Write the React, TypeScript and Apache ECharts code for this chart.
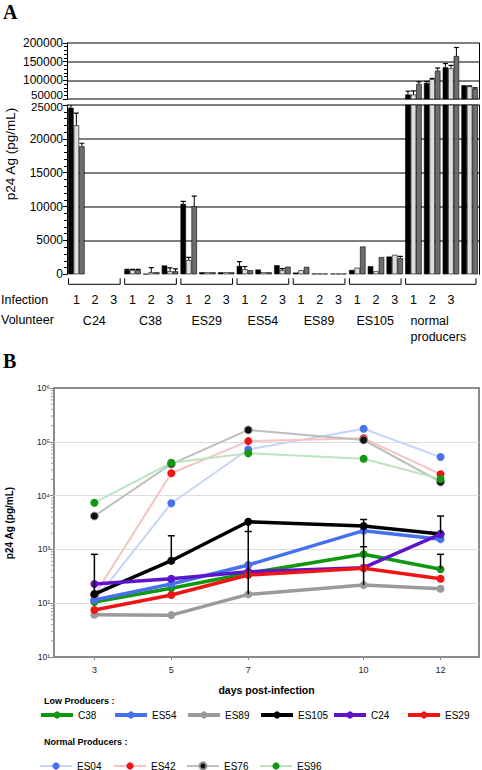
import React, { useEffect, useRef } from 'react';
import * as echarts from 'echarts';

const FONT = '"Liberation Sans", Arial, Helvetica, sans-serif';
const SERIF = '"Liberation Serif", "Times New Roman", serif';

// ---------- Panel A data ----------
const volunteers = ['C24', 'C38', 'ES29', 'ES54', 'ES89', 'ES105', 'normal\nproducers'];
const infectionCounts = [3, 3, 3, 3, 3, 3, 4];
const infectionTicks = ['1', '2', '3', ''];

// three bars per infection (black / light grey / dark grey)
const blackVals = [24600, 0, 0, 640, 50, 1300, 10400, 300, 300, 1240, 700, 1340, 250, 100, 100, 640, 1200, 2620, 62000, 93000, 135000, 87000];
const lightVals = [22000, 0, 0, 640, 300, 450, 2100, 300, 300, 740, 300, 600, 600, 100, 100, 980, 450, 2870, 62000, 103000, 132000, 84000];
const darkVals = [18900, 0, 0, 640, 300, 450, 10060, 300, 300, 600, 300, 1130, 1100, 100, 100, 4100, 2550, 2380, 90000, 126000, 165000, 78000];

const blackErr = [25050, null, null, 720, null, null, 10760, null, null, 1880, null, null, null, null, null, null, null, null, 71000, 97000, 145000, null];
const lightErr = [23800, null, null, 720, 1000, 950, 2500, null, null, 1150, null, 850, null, null, null, null, null, null, 71700, 105000, 140000, 85000];
const darkErr = [19350, null, null, 720, null, 800, 11550, null, null, null, null, null, null, null, null, null, null, 2650, 96000, 133000, 188000, 80000];

const topTicks = [50000, 200000, 50000]; // min, max, interval
const bottomTicks = [0, 25000, 5000];

// ---------- Panel B data ----------
const days = [3, 5, 7, 10, 12];
const lowNames = ['C38', 'ES54', 'ES89', 'ES105', 'C24', 'ES29'];
const lowValues = [
  [105, 189, 359, 811, 427],
  [115, 227, 513, 2230, 1550],
  [61, 60, 146, 218, 186],
  [148, 616, 3270, 2720, 1930],
  [227, 285, 385, 457, 1930],
  [75, 142, 334, 445, 285],
];
const normalNames = ['ES04', 'ES42', 'ES76', 'ES96'];
const normalValues = [
  [112, 7200, 72000, 175000, 52000],
  [140, 26000, 103000, 116000, 25000],
  [4170, 38600, 166000, 108000, 17900],
  [7380, 40700, 61000, 48500, 20400],
];
const errStems = [[3, 148, 810], [5, 616, 1790], [7, 146, 3270], [10, 218, 3600], [12, 430, 810], [12, 1930, 4170]];
const errCaps = [[3, 810], [5, 1790], [7, 2150], [10, 3600], [10, 1120], [12, 4170], [12, 810]];
const logMinorTicks = [1, 2, 3, 4, 5].flatMap((e) => [2, 3, 4, 5, 6, 7, 8, 9].map((m) => m * Math.pow(10, e)));

// styles
const lowColors = ['#0f980f', '#4570ee', '#9a9a9a', '#000000', '#5c14cc', '#f01414'];
const normalLine = ['#c6d4f6', '#f6c3c3', '#bdbdbd', '#bfe3bf'];
const normalMarker = ['#4a72ee', '#f01414', '#111111', '#109810'];

const SUP = ['⁰', '¹', '²', '³', '⁴', '⁵', '⁶'];

export default function App() {
  const ref = useRef<HTMLDivElement>(null);
  useEffect(() => {
    if (!ref.current) return;
    const chart = echarts.init(ref.current, undefined, { renderer: 'svg' });

    const categories: string[] = [];
    const groupRanges: number[][] = [];
    volunteers.forEach((v, gi) => {
      const start = categories.length;
      for (let i = 0; i < infectionCounts[gi]; i++) categories.push(v + '|' + infectionTicks[i] + '|' + i);
      groupRanges.push([start, categories.length - 1]);
    });

    const errData: number[][] = [];
    [blackErr, lightErr, darkErr].forEach((arr, k) => {
      const vals = [blackVals, lightVals, darkVals][k];
      arr.forEach((e, i) => {
        if (e != null) errData.push([i, vals[i], e, k]);
      });
    });

    const barGapFrac = 0.12;
    const renderBarErr = (params: any, api: any) => {
      const cat = api.value(0);
      const w = (api.size([1, 0])[0] * (1 - barGapFrac)) / 3;
      const top = api.coord([cat, api.value(2)]);
      const base = api.coord([cat, api.value(1)]);
      const cx = top[0] + (api.value(3) - 1) * w;
      const cap = w * 0.45;
      return {
        type: 'group',
        children: [
          { type: 'line', shape: { x1: cx, y1: base[1], x2: cx, y2: top[1] }, style: { stroke: '#000', lineWidth: 1 } },
          { type: 'line', shape: { x1: cx - cap, y1: top[1], x2: cx + cap, y2: top[1] }, style: { stroke: '#000', lineWidth: 1.2 } },
        ],
      };
    };

    const renderBracket = (params: any, api: any) => {
      const s = api.coord([api.value(0), 0]);
      const e = api.coord([api.value(1), 0]);
      const cw = api.size([1, 0])[0];
      const x0 = s[0] - cw / 2 + 1.5;
      const x1 = e[0] + cw / 2 - 3;
      const y0 = s[1] + 4;
      const y1 = s[1] + 10;
      const last = params.dataIndex === volunteers.length - 1;
      return {
        type: 'group',
        children: [
          { type: 'polyline', shape: { points: [[x0, y0], [x0, y1], [x1, y1], [x1, y0]] }, style: { stroke: '#000', lineWidth: 1, fill: 'none' } },
          {
            type: 'text',
            x: last ? x0 + 5 : (x0 + x1) / 2,
            y: s[1] + 39,
            style: {
              text: volunteers[params.dataIndex],
              fontSize: 12.5,
              fontFamily: FONT,
              fill: '#000',
              align: last ? 'left' : 'center',
              verticalAlign: 'top',
              lineHeight: 16,
            },
          },
        ],
      };
    };

    const barCommon = (name: string, data: number[], color: string, gi: number) => ({
      name,
      type: 'bar',
      xAxisIndex: gi,
      yAxisIndex: gi,
      data: data.map((v) => (v === 0 ? { value: v, itemStyle: { borderWidth: 0 } } : v)),
      barGap: '0%',
      barCategoryGap: barGapFrac * 100 + '%',
      clip: true,
      itemStyle: { color, borderColor: '#000', borderWidth: 0.6 },
    });

    const valueAxis = (gi: number, t: number[], extra: any = {}, label: any = {}) => ({
      type: 'value',
      gridIndex: gi,
      min: t[0],
      max: t[1],
      interval: t[2],
      axisLine: { show: true, onZero: false, lineStyle: { color: '#000', width: 1 } },
      axisTick: { show: true, length: 4, lineStyle: { color: '#000' } },
      minorTick: { show: true, splitNumber: 5, length: 3, lineStyle: { color: '#000' } },
      axisLabel: { margin: 4, fontSize: 12, color: '#000', fontFamily: FONT, formatter: (v: number) => String(v), ...label },
      splitLine: { show: true, lineStyle: { color: '#555', width: 1.5 }, ...extra },
    });
    const borderAxis = (gi: number) => ({
      type: 'value',
      gridIndex: gi,
      position: 'right',
      axisLine: { show: true, onZero: false, lineStyle: { color: '#000', width: 1 } },
      axisTick: { show: false },
      axisLabel: { show: false },
      splitLine: { show: false },
    });

    const lowSeries = lowNames.map((n, i) => ({
      name: n,
      type: 'line',
      xAxisIndex: 2,
      yAxisIndex: 4,
      data: days.map((d, j) => [d, lowValues[i][j]]),
      symbol: 'circle',
      symbolSize: 8,
      z: 4,
      lineStyle: { color: lowColors[i], width: 3.5 },
      itemStyle: { color: lowColors[i] },
    }));
    const normalSeries = normalNames.map((n, i) => ({
      name: n,
      type: 'line',
      xAxisIndex: 2,
      yAxisIndex: 4,
      data: days.map((d, j) => [d, normalValues[i][j]]),
      symbol: 'circle',
      symbolSize: 8,
      z: 3,
      lineStyle: { color: normalLine[i], width: 2 },
      itemStyle: n === 'ES76' ? { color: normalMarker[i], borderColor: '#999', borderWidth: 1 } : { color: normalMarker[i] },
    }));

    const legendLefts = [39, 113, 186, 259, 332, 406];
    const legends: any[] = [];
    lowNames.forEach((n, i) => legends.push({ name: n, left: legendLefts[i], top: 710, w: 4 }));
    normalNames.forEach((n, i) => legends.push({ name: n, left: legendLefts[i], top: 761, w: 2 }));

    const option: any = {
      animation: false,
      textStyle: { fontFamily: FONT },
      grid: [
        { left: 67, top: 43, width: 412, height: 56 },
        { left: 67, top: 105, width: 412, height: 169.3 },
        { left: 54, top: 388, width: 425, height: 269, show: true, borderColor: '#8c8c8c', borderWidth: 2 },
      ],
      xAxis: [
        { type: 'category', gridIndex: 0, data: categories, show: false },
        {
          type: 'category',
          gridIndex: 1,
          data: categories,
          axisLine: { show: false },
          axisTick: { show: false },
          axisLabel: { interval: 0, margin: 19, fontSize: 12.5, color: '#000', fontFamily: FONT, formatter: (v: string) => v.split('|')[1] },
        },
        {
          type: 'value',
          gridIndex: 2,
          min: 1.95,
          max: 13,
          axisLine: { show: false },
          splitLine: { show: false },
          axisTick: { show: true, customValues: days, length: 3, lineStyle: { color: '#888' } },
          axisLabel: { customValues: days, fontSize: 9, margin: 8, color: '#222', fontFamily: FONT },
          name: 'days post-infection',
          nameLocation: 'middle',
          nameGap: 27,
          nameTextStyle: { fontWeight: 'bold', fontSize: 10.5, color: '#000', fontFamily: FONT },
        },
      ],
      yAxis: [
        valueAxis(0, topTicks, {}, {
          formatter: (v: number) => (v === topTicks[0] ? '{lo|' + v + '}' : String(v)),
          rich: { lo: { fontSize: 11.5, color: '#000', fontFamily: FONT, padding: [0, 0, 8, 0] } },
        }),
        valueAxis(1, bottomTicks, { showMinLine: false }, {
          formatter: (v: number) => (v === bottomTicks[1] ? '{hi|' + v + '}' : String(v)),
          rich: { hi: { fontSize: 11.5, color: '#000', fontFamily: FONT, padding: [4, 0, 0, 0] } },
        }),
        borderAxis(0),
        borderAxis(1),
        {
          type: 'log',
          gridIndex: 2,
          logBase: 10,
          min: 10,
          max: 1000000,
          axisLine: { show: false },
          axisTick: { show: true, length: 4, lineStyle: { color: '#888' } },
          axisLabel: {
            fontSize: 8.5,
            margin: 4,
            color: '#222',
            fontFamily: FONT,
            formatter: (v: number) => '10' + SUP[Math.round(Math.log10(v))],
          },
          splitLine: { show: true, showMinLine: false, showMaxLine: false, lineStyle: { color: '#dcdcdc', width: 1 } },
        },
      ],
      legend: legends.map((l) => ({
        data: [l.name],
        left: l.left,
        top: l.top,
        padding: 0,
        itemWidth: 32,
        itemHeight: 9,
        itemGap: 0,
        selectedMode: false,
        lineStyle: { width: l.w },
        textStyle: { fontSize: 10, color: '#000', fontFamily: FONT },
      })),
      series: [
        barCommon('A1', blackVals, '#000000', 0),
        barCommon('A2', lightVals, '#dedede', 0),
        barCommon('A3', darkVals, '#6e6e6e', 0),
        barCommon('B1', blackVals, '#000000', 1),
        barCommon('B2', lightVals, '#dedede', 1),
        barCommon('B3', darkVals, '#6e6e6e', 1),
        { type: 'custom', xAxisIndex: 0, yAxisIndex: 0, data: errData, encode: { x: 0, y: 2 }, renderItem: renderBarErr, clip: true, z: 5 },
        { type: 'custom', xAxisIndex: 1, yAxisIndex: 1, data: errData, encode: { x: 0, y: 2 }, renderItem: renderBarErr, clip: true, z: 5 },
        { type: 'custom', xAxisIndex: 1, yAxisIndex: 1, data: groupRanges, renderItem: renderBracket, clip: false, silent: true },
        ...normalSeries,
        ...lowSeries,
        {
          type: 'custom',
          xAxisIndex: 2,
          yAxisIndex: 4,
          data: errStems,
          encode: { x: 0, y: [1, 2] },
          z: 6,
          renderItem: (p: any, api: any) => {
            const a = api.coord([api.value(0), api.value(1)]);
            const b = api.coord([api.value(0), api.value(2)]);
            return { type: 'line', shape: { x1: a[0], y1: a[1], x2: b[0], y2: b[1] }, style: { stroke: '#000', lineWidth: 1.5 } };
          },
        },
        {
          type: 'custom',
          xAxisIndex: 2,
          yAxisIndex: 4,
          data: errCaps,
          z: 6,
          renderItem: (p: any, api: any) => {
            const a = api.coord([api.value(0), api.value(1)]);
            return { type: 'line', shape: { x1: a[0] - 3.5, y1: a[1], x2: a[0] + 3.5, y2: a[1] }, style: { stroke: '#000', lineWidth: 1.5 } };
          },
        },
        {
          type: 'custom',
          xAxisIndex: 2,
          yAxisIndex: 4,
          data: logMinorTicks.map((v) => [days[0], v]),
          z: 6,
          renderItem: (p: any, api: any) => {
            const a = api.coord([api.value(0), api.value(1)]);
            const x = p.coordSys.x;
            return { type: 'line', shape: { x1: x - 3, y1: a[1], x2: x, y2: a[1] }, style: { stroke: '#888', lineWidth: 0.8 } };
          },
        },
      ],
      graphic: [
        { type: 'text', left: 3, top: 2, style: { text: 'A', fontSize: 20, fontWeight: 'bold', fontFamily: SERIF, fill: '#000' } },
        { type: 'text', left: 3, top: 351, style: { text: 'B', fontSize: 20, fontWeight: 'bold', fontFamily: SERIF, fill: '#000' } },
        {
          type: 'text',
          x: 10,
          y: 154,
          rotation: Math.PI / 2,
          style: { text: 'p24 Ag (pg/mL)', fontSize: 13.5, fontFamily: FONT, fill: '#000', align: 'center', verticalAlign: 'middle' },
        },
        {
          type: 'text',
          x: 9,
          y: 523,
          rotation: Math.PI / 2,
          style: { text: 'p24 Ag (pg/mL)', fontSize: 10, fontWeight: 'bold', fontFamily: FONT, fill: '#000', align: 'center', verticalAlign: 'middle' },
        },
        { type: 'text', x: 1, y: 300, style: { text: 'Infection', fontSize: 12.5, fontFamily: FONT, fill: '#000', verticalAlign: 'middle' } },
        { type: 'text', x: 1, y: 320, style: { text: 'Volunteer', fontSize: 12.5, fontFamily: FONT, fill: '#000', verticalAlign: 'middle' } },
        { type: 'text', x: 44, y: 701, style: { text: 'Low Producers :', fontSize: 9, fontWeight: 'bold', fontFamily: FONT, fill: '#000', verticalAlign: 'middle' } },
        { type: 'text', x: 44, y: 742, style: { text: 'Normal Producers :', fontSize: 9, fontWeight: 'bold', fontFamily: FONT, fill: '#000', verticalAlign: 'middle' } },
      ],
    };

    chart.setOption(option);
    return () => chart.dispose();
  }, []);

  return <div ref={ref} style={{ position: 'fixed', left: 0, top: 0, width: 482, height: 770, background: '#fff' }} />;
}
